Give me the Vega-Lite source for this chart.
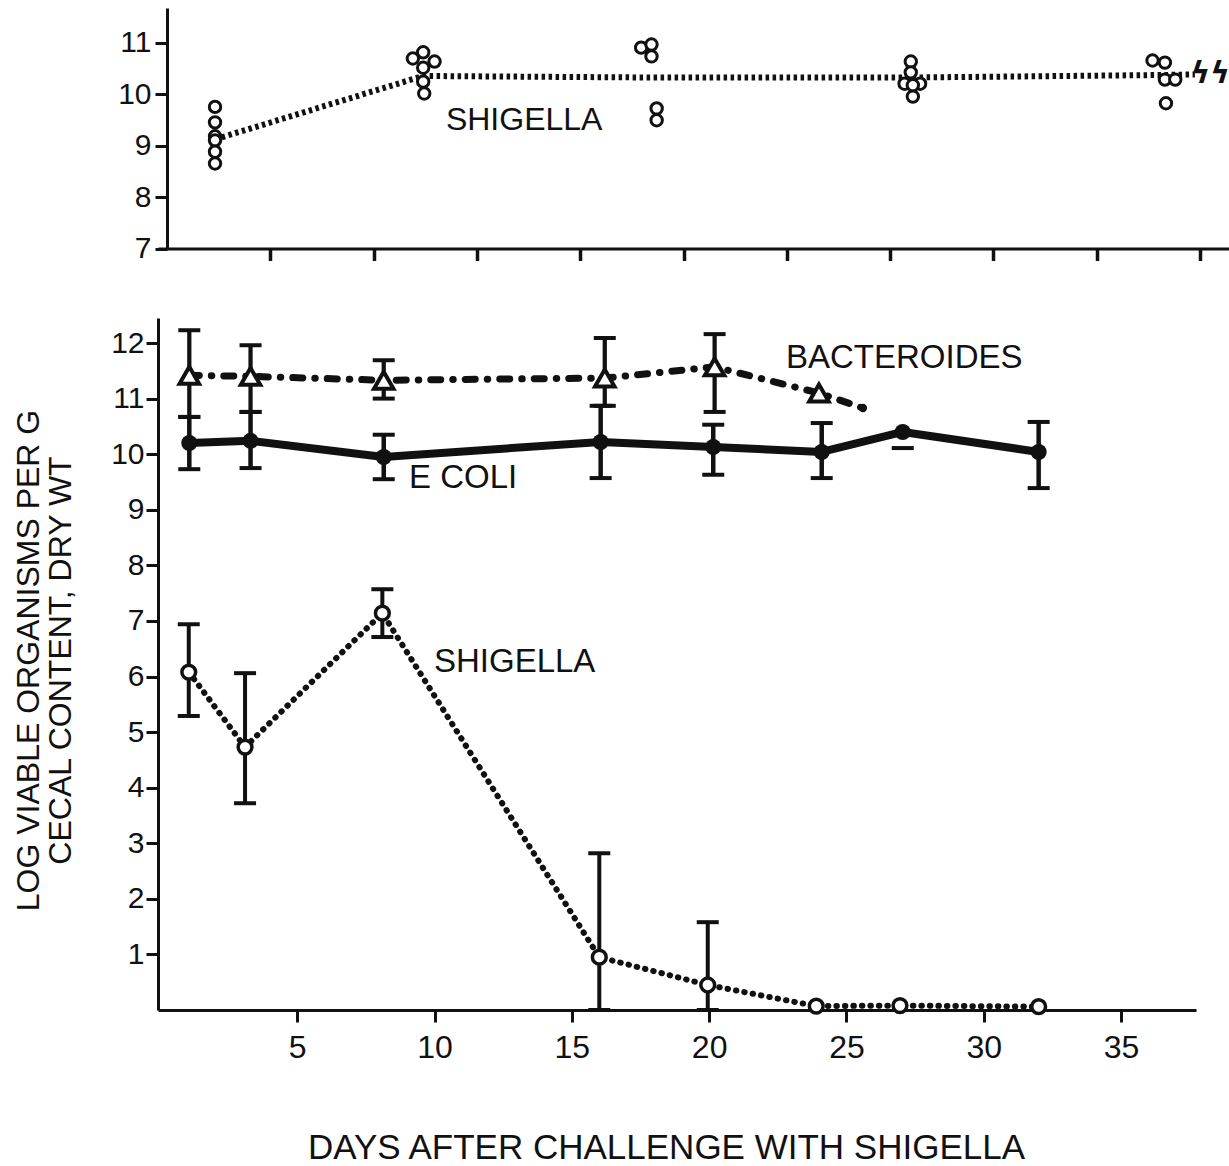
{
  "$schema": "https://vega.github.io/schema/vega-lite/v6.json",
  "padding": {"left": 12, "top": 8, "right": 0, "bottom": 0},
  "bounds": "flush",
  "spacing": 69,
  "background": "white",
  "config": {
    "view": {"stroke": null},
    "font": "Liberation Sans",
    "axis": {
      "grid": false,
      "domainColor": "#111",
      "tickColor": "#111",
      "labelColor": "#111",
      "titleColor": "#111",
      "labelFont": "Liberation Sans",
      "titleFont": "Liberation Sans",
      "titleFontWeight": "normal",
      "labelFlush": false,
      "labelOverlap": false,
      "domainWidth": 3,
      "tickWidth": 3,
      "tickSize": 12,
      "format": "d"
    }
  },
  "datasets": {
    "topline": [
      {"x": 0.465, "v": 9.12},
      {"x": 2.48, "v": 10.35},
      {"x": 4.69, "v": 10.32},
      {"x": 7.21, "v": 10.32},
      {"x": 9.66, "v": 10.37},
      {"x": 9.95, "v": 10.38}
    ],
    "toppoints": [
      {"x": 0.465, "v": 9.75},
      {"x": 0.465, "v": 9.45},
      {"x": 0.465, "v": 9.18},
      {"x": 0.465, "v": 9.1},
      {"x": 0.465, "v": 8.88},
      {"x": 0.465, "v": 8.65},
      {"x": 2.38, "v": 10.69},
      {"x": 2.48, "v": 10.81},
      {"x": 2.59, "v": 10.63},
      {"x": 2.48, "v": 10.51},
      {"x": 2.48, "v": 10.24},
      {"x": 2.49, "v": 10.01},
      {"x": 4.59, "v": 10.9},
      {"x": 4.69, "v": 10.96},
      {"x": 4.69, "v": 10.73},
      {"x": 4.74, "v": 9.72},
      {"x": 4.74, "v": 9.49},
      {"x": 7.2, "v": 10.63},
      {"x": 7.2, "v": 10.42},
      {"x": 7.14, "v": 10.2},
      {"x": 7.29, "v": 10.2},
      {"x": 7.22, "v": 10.17},
      {"x": 7.22, "v": 9.95},
      {"x": 9.54, "v": 10.65},
      {"x": 9.66, "v": 10.61},
      {"x": 9.66, "v": 10.28},
      {"x": 9.76, "v": 10.28},
      {"x": 9.67, "v": 9.82}
    ],
    "toplabels": [
      {"x": 2.7, "v": 9.5, "label": "SHIGELLA"}
    ],
    "topbreak": [
      {"x": 10.1, "v": 10.38, "label": "ϟϟ"}
    ],
    "bottom": [
      {"org": "ecoli", "day": 1.07, "value": 10.2, "lo": 9.73, "hi": 10.67, "marker": true},
      {"org": "ecoli", "day": 3.3, "value": 10.24, "lo": 9.75, "hi": 10.76, "marker": true},
      {"org": "ecoli", "day": 8.15, "value": 9.95, "lo": 9.55, "hi": 10.35, "marker": true},
      {"org": "ecoli", "day": 16.05, "value": 10.22, "lo": 9.57, "hi": 10.87, "marker": true},
      {"org": "ecoli", "day": 20.15, "value": 10.13, "lo": 9.63, "hi": 10.53, "marker": true},
      {"org": "ecoli", "day": 24.1, "value": 10.04, "lo": 9.57, "hi": 10.56, "marker": true},
      {"org": "ecoli", "day": 27.05, "value": 10.4, "lo": 10.11, "hi": null, "marker": true},
      {"org": "ecoli", "day": 32.0, "value": 10.04, "lo": 9.39, "hi": 10.58, "marker": true},
      {"org": "bact", "day": 1.07, "value": 11.42, "lo": 10.67, "hi": 12.23, "marker": true},
      {"org": "bact", "day": 3.3, "value": 11.4, "lo": 10.76, "hi": 11.96, "marker": true},
      {"org": "bact", "day": 8.15, "value": 11.33, "lo": 11.0, "hi": 11.69, "marker": true},
      {"org": "bact", "day": 16.2, "value": 11.37, "lo": 10.87, "hi": 12.09, "marker": true},
      {"org": "bact", "day": 20.2, "value": 11.57, "lo": 10.76, "hi": 12.16, "marker": true},
      {"org": "bact", "day": 24.0, "value": 11.1, "lo": null, "hi": null, "marker": true},
      {"org": "bact", "day": 25.6, "value": 10.83, "lo": null, "hi": null, "marker": false},
      {"org": "shig", "day": 1.05, "value": 6.08, "lo": 5.29, "hi": 6.94, "marker": true},
      {"org": "shig", "day": 3.1, "value": 4.73, "lo": 3.72, "hi": 6.06, "marker": true},
      {"org": "shig", "day": 8.1, "value": 7.14, "lo": 6.71, "hi": 7.57, "marker": true},
      {"org": "shig", "day": 16.0, "value": 0.95, "lo": 0, "hi": 2.82, "marker": true},
      {"org": "shig", "day": 19.95, "value": 0.45, "lo": 0, "hi": 1.58, "marker": true},
      {"org": "shig", "day": 23.9, "value": 0.07, "lo": null, "hi": null, "marker": true},
      {"org": "shig", "day": 26.95, "value": 0.08, "lo": null, "hi": null, "marker": true},
      {"org": "shig", "day": 32.0, "value": 0.06, "lo": null, "hi": null, "marker": true}
    ],
    "bottomlabels": [
      {"day": 22.8, "value": 11.73, "label": "BACTEROIDES"},
      {"day": 9.07, "value": 9.57, "label": "E COLI"},
      {"day": 9.98, "value": 6.26, "label": "SHIGELLA"}
    ]
  },
  "vconcat": [
    {
      "width": 1072,
      "height": 240.5,
      "layer": [
        {
          "data": {"name": "topline"},
          "mark": {"type": "line", "strokeDash": [3.5, 3.5], "strokeWidth": 6, "color": "#111"},
          "encoding": {
            "x": {
              "field": "x", "type": "quantitative",
              "scale": {"domain": [-0.087, 10.29], "nice": false, "zero": false},
              "axis": {"values": [1, 2, 3, 4, 5, 6, 7, 8, 9, 10], "labels": false, "title": null, "tickWidth": 3.5}
            },
            "y": {
              "field": "v", "type": "quantitative",
              "scale": {"domain": [7, 11.67], "nice": false, "zero": false},
              "axis": {"values": [7, 8, 9, 10, 11], "title": null, "offset": -9, "labelFontSize": 30, "labelPadding": 4}
            }
          }
        },
        {
          "data": {"name": "toppoints"},
          "mark": {"type": "point", "shape": "circle", "filled": true, "fill": "white", "stroke": "#111", "strokeWidth": 3, "size": 130, "opacity": 1},
          "encoding": {
            "x": {"field": "x", "type": "quantitative"},
            "y": {"field": "v", "type": "quantitative"}
          }
        },
        {
          "data": {"name": "toplabels"},
          "mark": {"type": "text", "align": "left", "baseline": "middle", "fontSize": 32, "color": "#111"},
          "encoding": {
            "x": {"field": "x", "type": "quantitative"},
            "y": {"field": "v", "type": "quantitative"},
            "text": {"field": "label"}
          }
        },
        {
          "data": {"name": "topbreak"},
          "mark": {"type": "text", "align": "center", "baseline": "middle", "fontSize": 30, "font": "DejaVu Sans", "fontWeight": "bold", "color": "#111"},
          "encoding": {
            "x": {"field": "x", "type": "quantitative"},
            "y": {"field": "v", "type": "quantitative"},
            "text": {"field": "label"}
          }
        }
      ]
    },
    {
      "width": 1038,
      "height": 692,
      "data": {"name": "bottom"},
      "layer": [
        {
          "transform": [{"filter": "datum.lo != null && datum.hi != null"}],
          "mark": {"type": "rule", "color": "#111"},
          "encoding": {
            "x": {
              "field": "day", "type": "quantitative",
              "scale": {"domain": [-0.07, 37.73], "nice": false, "zero": false},
              "axis": {
                "values": [5, 10, 15, 20, 25, 30, 35],
                "labelFontSize": 32, "labelPadding": 10,
                "title": "DAYS AFTER CHALLENGE WITH SHIGELLA",
                "titleFontSize": 35, "titleX": 508, "titleY": 148, "titleBaseline": "alphabetic", "titleAlign": "center"
              }
            },
            "y": {
              "field": "lo", "type": "quantitative",
              "scale": {"domain": [0, 12.45], "nice": false, "zero": false},
              "axis": {
                "values": [1, 2, 3, 4, 5, 6, 7, 8, 9, 10, 11, 12],
                "labelFontSize": 30, "labelPadding": 2,
                "title": ["LOG VIABLE ORGANISMS PER G", "CECAL CONTENT, DRY WT"],
                "titleFontSize": 32, "titleLineHeight": 32, "titleAngle": -90,
                "titleX": -145, "titleY": 342, "titleBaseline": "top", "titleAlign": "center"
              }
            },
            "y2": {"field": "hi"},
            "strokeWidth": {"field": "org", "type": "nominal", "scale": {"domain": ["ecoli", "bact", "shig"], "range": [4.5, 4, 3.2]}, "legend": null}
          }
        },
        {
          "transform": [{"filter": "datum.lo != null"}],
          "mark": {"type": "tick", "orient": "horizontal", "size": 22, "thickness": 4, "color": "#111", "opacity": 1},
          "encoding": {
            "x": {"field": "day", "type": "quantitative"},
            "y": {"field": "lo", "type": "quantitative"}
          }
        },
        {
          "transform": [{"filter": "datum.hi != null"}],
          "mark": {"type": "tick", "orient": "horizontal", "size": 22, "thickness": 4, "color": "#111", "opacity": 1},
          "encoding": {
            "x": {"field": "day", "type": "quantitative"},
            "y": {"field": "hi", "type": "quantitative"}
          }
        },
        {
          "transform": [{"filter": "datum.org == 'ecoli'"}],
          "mark": {"type": "line", "strokeWidth": 8, "color": "#111", "strokeJoin": "round"},
          "encoding": {
            "x": {"field": "day", "type": "quantitative"},
            "y": {"field": "value", "type": "quantitative"}
          }
        },
        {
          "transform": [{"filter": "datum.org == 'bact'"}],
          "mark": {"type": "line", "strokeWidth": 7, "color": "#111", "strokeCap": "round", "strokeDash": [10, 12, 0.5, 12]},
          "encoding": {
            "x": {"field": "day", "type": "quantitative"},
            "y": {"field": "value", "type": "quantitative"}
          }
        },
        {
          "transform": [{"filter": "datum.org == 'shig'"}],
          "mark": {"type": "line", "strokeWidth": 6, "color": "#111", "strokeCap": "round", "strokeDash": [0.5, 8]},
          "encoding": {
            "x": {"field": "day", "type": "quantitative"},
            "y": {"field": "value", "type": "quantitative"}
          }
        },
        {
          "transform": [{"filter": "datum.org == 'ecoli'"}],
          "mark": {"type": "point", "shape": "circle", "filled": true, "color": "#111", "size": 260, "opacity": 1},
          "encoding": {
            "x": {"field": "day", "type": "quantitative"},
            "y": {"field": "value", "type": "quantitative"}
          }
        },
        {
          "transform": [{"filter": "datum.org == 'bact' && datum.marker"}],
          "mark": {"type": "point", "shape": "triangle-up", "filled": true, "fill": "white", "stroke": "#111", "strokeWidth": 4, "size": 380, "opacity": 1},
          "encoding": {
            "x": {"field": "day", "type": "quantitative"},
            "y": {"field": "value", "type": "quantitative"}
          }
        },
        {
          "transform": [{"filter": "datum.org == 'bact' && !datum.marker"}],
          "mark": {"type": "point", "shape": "circle", "filled": true, "color": "#111", "size": 70, "opacity": 1},
          "encoding": {
            "x": {"field": "day", "type": "quantitative"},
            "y": {"field": "value", "type": "quantitative"}
          }
        },
        {
          "transform": [{"filter": "datum.org == 'shig'"}],
          "mark": {"type": "point", "shape": "circle", "filled": true, "fill": "white", "stroke": "#111", "strokeWidth": 3.5, "size": 190, "opacity": 1},
          "encoding": {
            "x": {"field": "day", "type": "quantitative"},
            "y": {"field": "value", "type": "quantitative"}
          }
        },
        {
          "data": {"name": "bottomlabels"},
          "mark": {"type": "text", "align": "left", "baseline": "middle", "fontSize": 33, "color": "#111"},
          "encoding": {
            "x": {"field": "day", "type": "quantitative"},
            "y": {"field": "value", "type": "quantitative"},
            "text": {"field": "label"}
          }
        }
      ]
    }
  ]
}
